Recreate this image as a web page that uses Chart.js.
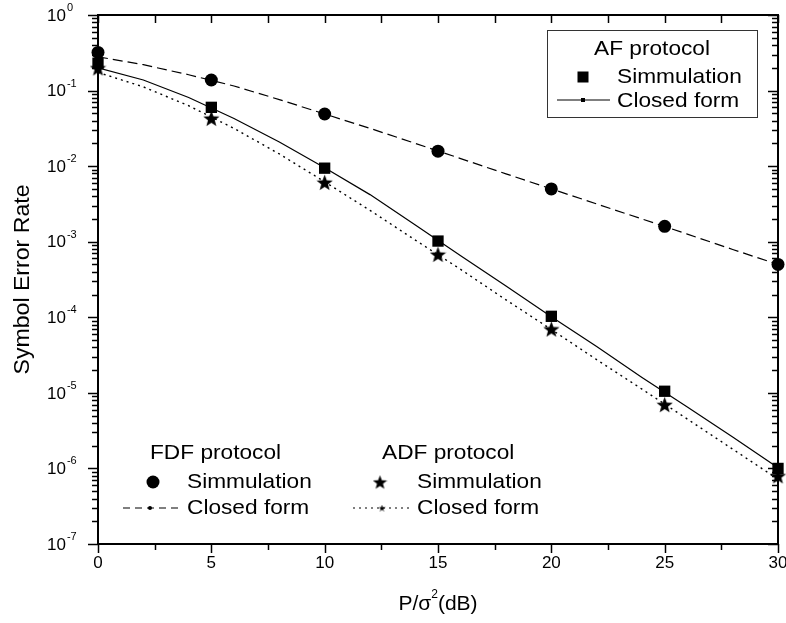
<!DOCTYPE html>
<html>
<head>
<meta charset="utf-8">
<script src="https://cdn.jsdelivr.net/npm/chart.js@4.4.1/dist/chart.umd.min.js"></script>
<style>
  html, body { margin: 0; padding: 0; background: #fff; }
  canvas { display: block; }
</style>
</head>
<body>
<canvas id="chart" width="786" height="623"></canvas>
<script>
// simulation points (every 5 dB)
const snrSim = [0, 5, 10, 15, 20, 25, 30]
const fdfSim = [0.32, 0.138, 0.049, 0.0158, 0.005, 0.0016, 0.0005]
const afSim = [0.23, 0.06, 0.0094, 0.00102, 1.03e-4, 1.05e-5, 1.0e-6]
const adfSim = [0.2, 0.043, 0.0061, 6.8e-4, 7e-5, 7e-6, 8e-7]

// closed form curves (every 2 dB)
const snrClosed = [0, 2, 4, 6, 8, 10, 12, 14, 16, 18, 20, 22, 24, 26, 28, 30]
const fdfClosed = [0.28, 0.22, 0.162, 0.115, 0.076, 0.049, 0.0316, 0.02, 0.0126, 0.0079, 0.005, 0.00316, 0.002, 0.00126, 7.9e-4, 5e-4]
const afClosed = [0.2, 0.138, 0.081, 0.0427, 0.0209, 0.0095, 0.0042, 0.00166, 6.5e-4, 2.6e-4, 1.02e-4, 4.1e-5, 1.6e-5, 6.5e-6, 2.6e-6, 1.02e-6]
const adfClosed = [0.174, 0.112, 0.063, 0.0316, 0.0145, 0.0062, 0.0026, 0.00105, 4.3e-4, 1.7e-4, 6.9e-5, 2.75e-5, 1.12e-5, 4.5e-6, 1.8e-6, 7.2e-7]

// axis ticks
const xTickValues = [0, 5, 10, 15, 20, 25, 30]
const yTickExponents = [0, -1, -2, -3, -4, -5, -6, -7]

const FONT = '"Liberation Sans", Arial, sans-serif'
const DASHED = [10, 5]
const DOTTED = [2, 4]

function toPoints(xs, ys) {
  return xs.map((x, i) => ({ x, y: ys[i] }))
}

function makeStar(size) {
  const c = document.createElement('canvas')
  c.width = size
  c.height = size
  const ctx = c.getContext('2d')
  const outer = size / 2
  const inner = outer * 0.42
  const cx = size / 2
  const cy = size / 2 + outer * 0.1
  ctx.beginPath()
  for (let i = 0; i < 10; i++) {
    const r = i % 2 ? inner : outer
    const a = -Math.PI / 2 + i * Math.PI / 5
    ctx.lineTo(cx + r * Math.cos(a), cy + r * Math.sin(a))
  }
  ctx.closePath()
  ctx.fillStyle = '#000'
  ctx.fill()
  return c
}

const starImg = makeStar(17)

function markerSet(label, data, style, radius) {
  return {
    label,
    data: toPoints(snrSim, data),
    showLine: false,
    pointStyle: style,
    pointRadius: radius,
    pointBackgroundColor: '#000',
    pointBorderColor: '#000',
    pointBorderWidth: 0,
    clip: false
  }
}

function curveSet(label, data, dash, width) {
  return {
    label,
    data: toPoints(snrClosed, data),
    borderColor: '#000',
    borderWidth: width,
    borderDash: dash,
    pointRadius: 0,
    tension: 0,
    fill: false
  }
}

function line(ctx, x1, y1, x2, y2) {
  ctx.beginPath()
  ctx.moveTo(x1, y1)
  ctx.lineTo(x2, y2)
  ctx.stroke()
}

// text a bit wider than the font, like the original export
function wideText(ctx, text, x, y, sx) {
  ctx.save()
  ctx.translate(x, y)
  ctx.scale(sx, 1)
  ctx.fillText(text, 0, 0)
  ctx.restore()
}

const axesPlugin = {
  id: 'axesPlugin',
  afterDraw(chart) {
    const { ctx, chartArea: { left, right, top, bottom }, scales: { x, y } } = chart
    ctx.save()
    ctx.strokeStyle = '#000'
    ctx.fillStyle = '#000'

    ctx.lineWidth = 2
    ctx.strokeRect(left, top, right - left, bottom - top)

    // x ticks every 2.5 dB
    ctx.lineWidth = 1.5
    for (let v = 0; v <= 30; v += 2.5) {
      const px = Math.round(x.getPixelForValue(v)) + 0.5
      const major = v % 5 === 0
      line(ctx, px, bottom, px, bottom + (major ? 9 : 6))
      line(ctx, px, top, px, top + 8)
    }

    // y ticks (decades + minors)
    for (let e = -7; e <= 0; e++) {
      for (let m = 1; m <= 9; m++) {
        if (e === 0 && m > 1) break
        const py = Math.round(y.getPixelForValue(m * Math.pow(10, e))) + 0.5
        const len = m === 1 ? 10 : 6
        line(ctx, left - len, py, left, py)
        line(ctx, right - len, py, right, py)
      }
    }

    // x labels
    ctx.font = '17px ' + FONT
    ctx.textAlign = 'center'
    ctx.textBaseline = 'middle'
    xTickValues.forEach(v => {
      ctx.fillText(String(v), x.getPixelForValue(v), bottom + 19)
    })

    // y labels 10^n
    yTickExponents.forEach(e => {
      const py = y.getPixelForValue(Math.pow(10, e))
      ctx.font = '17px ' + FONT
      ctx.textAlign = 'left'
      ctx.textBaseline = 'middle'
      ctx.fillText('10', 47, py + 1)
      const w = ctx.measureText('10').width
      ctx.font = '11px ' + FONT
      ctx.fillText(String(e), 47 + w + 1, py - 7)
    })

    // axis titles
    ctx.font = '22px ' + FONT
    ctx.textAlign = 'center'
    ctx.textBaseline = 'middle'
    ctx.save()
    ctx.translate(23, (top + bottom) / 2)
    ctx.rotate(-Math.PI / 2)
    wideText(ctx, 'Symbol Error Rate', 0, 0, 1.05)
    ctx.restore()

    const cx = (left + right) / 2
    const parts = ['P/σ', '2', '(dB)']
    ctx.font = '21px ' + FONT
    const w0 = ctx.measureText(parts[0]).width
    const w2 = ctx.measureText(parts[2]).width
    ctx.font = '12px ' + FONT
    const w1 = ctx.measureText(parts[1]).width
    let tx = cx - (w0 + w1 + w2) / 2
    const ty = 604
    ctx.textAlign = 'left'
    ctx.font = '21px ' + FONT
    ctx.fillText(parts[0], tx, ty)
    tx += w0
    ctx.font = '12px ' + FONT
    ctx.fillText(parts[1], tx, ty - 9)
    tx += w1
    ctx.font = '21px ' + FONT
    ctx.fillText(parts[2], tx, ty)

    ctx.restore()
  }
}

function drawSample(ctx, kind, x, y, opts) {
  ctx.save()
  ctx.fillStyle = '#000'
  ctx.strokeStyle = '#000'
  if (kind === 'circle') {
    ctx.beginPath()
    ctx.arc(x, y, 6.5, 0, Math.PI * 2)
    ctx.fill()
  } else if (kind === 'square') {
    ctx.fillRect(x - 5.5, y - 5.5, 11, 11)
  } else if (kind === 'star') {
    ctx.drawImage(makeStar(15), x - 7.5, y - 7.5)
  } else if (kind === 'line') {
    ctx.lineWidth = opts.width
    ctx.setLineDash(opts.dash)
    line(ctx, opts.x1, y, opts.x2, y)
    ctx.setLineDash([])
    if (opts.dot === 'square') ctx.fillRect(x - 2, y - 2, 4, 4)
    else if (opts.dot === 'star') ctx.drawImage(makeStar(7), x - 3.5, y - 3.5)
    else {
      ctx.beginPath()
      ctx.arc(x, y, 2, 0, Math.PI * 2)
      ctx.fill()
    }
  }
  ctx.restore()
}

const legendPlugin = {
  id: 'legendPlugin',
  afterDraw(chart) {
    const { ctx } = chart
    const sx = 1.08
    ctx.save()
    ctx.font = '21px ' + FONT
    ctx.fillStyle = '#000'
    ctx.textBaseline = 'middle'

    // AF box, top right
    ctx.fillStyle = '#fff'
    ctx.fillRect(547, 30, 210, 87)
    ctx.strokeStyle = '#333'
    ctx.lineWidth = 1
    ctx.strokeRect(547.5, 30.5, 210, 87)
    ctx.fillStyle = '#000'
    ctx.textAlign = 'center'
    wideText(ctx, 'AF protocol', 652, 49, sx)
    ctx.textAlign = 'left'
    drawSample(ctx, 'square', 583, 77)
    wideText(ctx, 'Simmulation', 617, 77, sx)
    drawSample(ctx, 'line', 583, 100, { x1: 557, x2: 610, width: 1.2, dash: [], dot: 'square' })
    wideText(ctx, 'Closed form', 617, 101, sx)

    // FDF, bottom left
    wideText(ctx, 'FDF protocol', 150, 453, sx)
    drawSample(ctx, 'circle', 153, 482)
    wideText(ctx, 'Simmulation', 187, 482, sx)
    drawSample(ctx, 'line', 150, 508, { x1: 123, x2: 178, width: 1.2, dash: [7, 5], dot: 'circle' })
    wideText(ctx, 'Closed form', 187, 508, sx)

    // ADF
    wideText(ctx, 'ADF protocol', 382, 453, sx)
    drawSample(ctx, 'star', 380, 482)
    wideText(ctx, 'Simmulation', 417, 482, sx)
    drawSample(ctx, 'line', 382, 508, { x1: 353, x2: 412, width: 1.2, dash: DOTTED, dot: 'star' })
    wideText(ctx, 'Closed form', 417, 508, sx)

    ctx.restore()
  }
}

new Chart(document.getElementById('chart'), {
  type: 'line',
  data: {
    datasets: [
      markerSet('FDF Simmulation', fdfSim, 'circle', 6.5),
      markerSet('AF Simmulation', afSim, 'rect', 8),
      markerSet('ADF Simmulation', adfSim, starImg, 8),
      curveSet('FDF Closed form', fdfClosed, DASHED, 1.2),
      curveSet('AF Closed form', afClosed, [], 1.2),
      curveSet('ADF Closed form', adfClosed, DOTTED, 1.4)
    ]
  },
  options: {
    responsive: false,
    animation: false,
    layout: { padding: { left: 98, right: 8, top: 15, bottom: 79 } },
    scales: {
      x: { type: 'linear', min: 0, max: 30, display: false },
      y: { type: 'logarithmic', min: 1e-7, max: 1, display: false }
    },
    plugins: {
      legend: { display: false },
      tooltip: { enabled: false }
    }
  },
  plugins: [axesPlugin, legendPlugin]
})
</script>
</body>
</html>
